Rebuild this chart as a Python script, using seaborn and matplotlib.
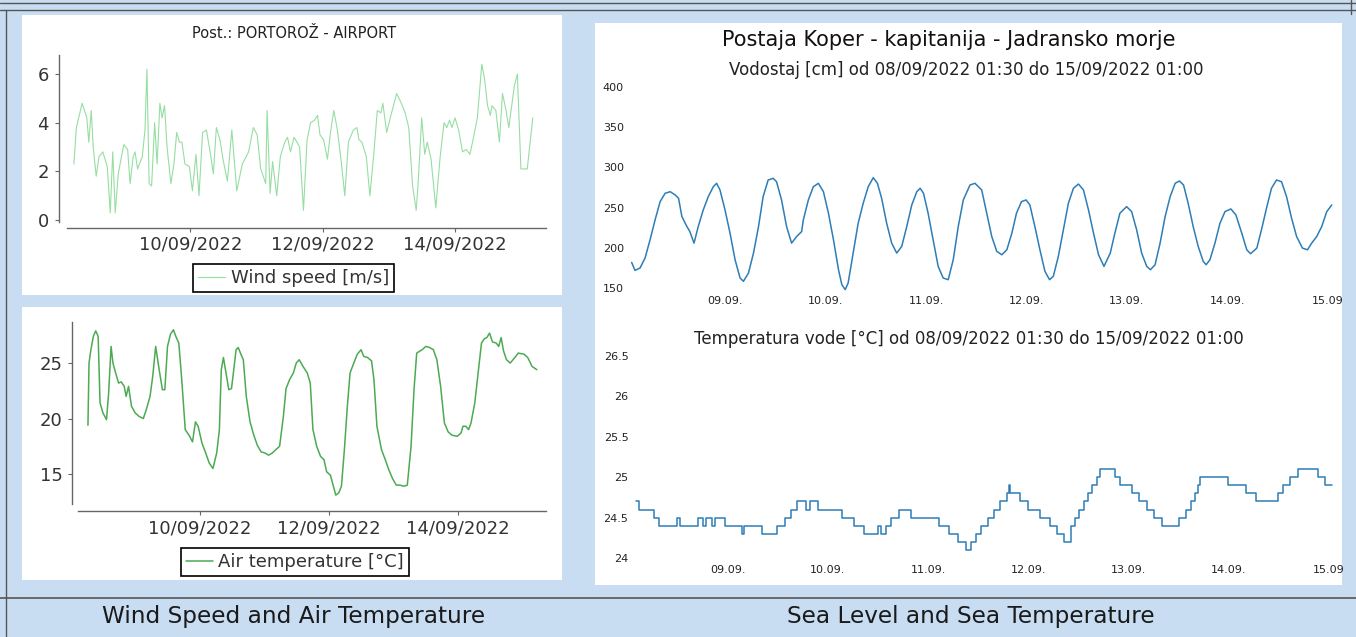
import matplotlib
matplotlib.use("Agg")
import matplotlib.pyplot as plt
from matplotlib.patches import Rectangle
from matplotlib.lines import Line2D
import pandas as pd
import seaborn as sns

sns.set_theme(style="ticks")
plt.rcParams["font.family"] = ["DejaVu Sans"]

START = pd.Timestamp("2022-09-08 00:00")

# hours since 08/09/2022 00:00
wind_hours = [5.7, 6.6, 8.7, 10.4, 11.1, 12.0, 12.7, 13.8, 14.8, 16.2,
              17.8, 18.9, 19.8, 20.7, 21.8, 23.8, 25.2, 26.1, 27.2, 27.9,
              28.8, 30.5, 31.5, 32.2, 33.0, 33.9, 35.0, 35.9, 36.9, 37.7,
              38.6, 39.5, 40.9, 42.0, 43.0, 44.0, 44.9, 46.0, 47.6, 48.7,
              50.0, 51.1, 52.4, 53.8, 55.4, 56.3, 57.4, 58.7, 59.8, 61.4,
              63.0, 64.8, 66.8, 69.1, 70.8, 72.2, 73.5, 75.3, 75.8, 76.9,
              77.8, 79.3, 80.6, 82.2, 83.2, 84.3, 85.6, 87.6, 89.0, 90.3,
              91.6, 93.0, 94.1, 95.0, 96.3, 97.7, 98.8, 100.0, 101.3, 102.6,
              104.0, 105.3, 107.1, 108.4, 109.1, 110.2, 111.8, 113.1, 114.5, 115.8,
              117.1, 117.8, 119.2, 120.5, 122.8, 124.5, 125.9, 127.2, 128.6, 129.9,
              130.6, 131.9, 133.0, 133.9, 135.3, 137.0, 138.6, 140.0, 141.0, 142.0,
              142.9, 144.0, 145.3, 146.7, 148.0, 149.4, 150.7, 152.1, 153.7, 154.7,
              155.8, 156.8, 157.4, 158.8, 160.1, 161.2, 162.5, 163.5, 165.5, 166.6,
              167.9, 170.2, 172.2]
wind_speed = [2.3, 3.8, 4.8, 4.2, 3.2, 4.5, 3.0, 1.8, 2.6, 2.8,
              2.2, 0.3, 2.8, 0.3, 1.9, 3.1, 2.9, 1.5, 2.6, 2.8,
              2.1, 2.6, 3.7, 6.2, 1.5, 1.4, 4.0, 2.3, 4.8, 4.2,
              4.7, 3.0, 1.5, 2.3, 3.6, 3.2, 3.2, 2.3, 2.2, 1.2,
              2.7, 1.0, 3.6, 3.7, 2.6, 1.9, 3.8, 3.3, 2.5, 1.6,
              3.7, 1.2, 2.3, 2.8, 3.8, 3.5, 2.1, 1.5, 4.5, 1.1,
              2.4, 1.0, 2.6, 3.2, 3.4, 2.8, 3.4, 3.0, 0.4, 3.3,
              4.0, 4.1, 4.3, 3.5, 3.3, 2.5, 3.6, 4.5, 3.7, 2.5,
              1.0, 3.2, 3.7, 3.8, 3.3, 3.2, 2.6, 1.0, 2.7, 4.5,
              4.4, 4.8, 3.6, 4.2, 5.2, 4.8, 4.4, 3.8, 1.4, 0.4,
              1.5, 4.2, 2.7, 3.2, 2.5, 0.5, 2.6, 4.0, 3.8, 4.1,
              3.8, 4.2, 3.7, 2.8, 2.9, 2.7, 3.4, 4.2, 6.4, 5.8,
              4.7, 4.3, 4.7, 4.5, 3.2, 5.2, 4.5, 3.8, 5.5, 6.0,
              2.1, 2.1, 4.2]

air_hours = [6.3, 6.7, 7.4, 8.3, 9.2, 10.1, 10.8, 11.9, 13.2, 14.0,
             14.9, 15.6, 16.6, 17.7, 18.7, 19.8, 20.5, 21.4, 22.5, 23.9,
             25.3, 26.9, 28.0, 29.4, 30.4, 31.5, 32.8, 34.0, 34.9, 35.9,
             37.0, 38.1, 39.0, 40.1, 41.1, 42.5, 43.9, 45.2, 46.3, 47.3,
             48.7, 50.1, 51.4, 52.8, 54.2, 55.2, 55.9, 56.7, 57.6, 58.7,
             59.7, 60.4, 61.4, 62.2, 63.2, 64.1, 65.2, 66.6, 68.0, 69.3,
             70.7, 72.1, 73.5, 74.9, 76.2, 77.6, 79.0, 80.0, 81.3, 82.7,
             83.8, 84.9, 86.3, 87.9, 89.0, 90.0, 91.4, 92.8, 94.1, 95.1,
             96.5, 97.6, 98.5, 99.6, 100.6, 101.7, 102.8, 103.8, 105.2, 106.5,
             107.9, 108.9, 110.3, 111.8, 112.7, 113.8, 115.5, 116.9, 118.2, 119.6,
             121.0, 122.4, 123.8, 125.1, 126.5, 127.6, 128.6, 130.6, 132.0, 133.4,
             134.8, 136.1, 137.5, 138.9, 140.3, 141.7, 143.7, 145.1, 145.8, 146.9,
             147.9, 148.8, 150.2, 151.3, 152.7, 153.8, 154.7, 155.7, 156.8, 158.2,
             159.1, 160.0, 160.9, 162.0, 163.4, 165.1, 166.4, 168.5, 169.9, 171.5,
             173.3]
air_temp = [19.4, 25.0, 26.2, 27.4, 27.9, 27.4, 21.4, 20.5, 19.9, 22.3,
            26.5, 25.0, 24.1, 23.2, 23.3, 22.9, 22.0, 22.9, 21.1, 20.5,
            20.2, 20.0, 20.8, 22.0, 23.8, 26.5, 24.4, 22.6, 22.6, 26.5,
            27.6, 28.0, 27.4, 26.8, 23.8, 19.0, 18.5, 17.9, 19.7, 19.3,
            17.8, 16.9, 16.0, 15.5, 16.9, 19.0, 24.4, 25.5, 24.2, 22.6,
            22.7, 24.1, 26.2, 26.4, 25.8, 25.3, 22.0, 19.7, 18.5, 17.6,
            17.0, 16.9, 16.7, 16.9, 17.2, 17.5, 20.2, 22.7, 23.5, 24.1,
            25.0, 25.3, 24.7, 24.1, 23.2, 19.0, 17.5, 16.6, 16.3, 15.2,
            14.9, 13.9, 13.1, 13.3, 13.9, 17.2, 21.1, 24.1, 25.0, 25.8,
            26.2, 25.6, 25.5, 25.2, 23.5, 19.3, 17.2, 16.3, 15.4, 14.6,
            14.0, 14.0, 13.9, 14.0, 17.5, 22.6, 25.9, 26.2, 26.5, 26.4,
            26.2, 25.3, 22.9, 19.6, 18.8, 18.5, 18.4, 18.7, 19.3, 19.3,
            19.0, 19.6, 21.4, 23.8, 26.8, 27.2, 27.3, 27.7, 26.9, 26.8,
            26.5, 27.3, 26.1, 25.3, 25.0, 25.5, 25.9, 25.8, 25.5, 24.7,
            24.4]

sea_level_hours = [1.7, 2.5, 3.7, 4.9, 6.1, 7.3, 8.5, 9.7, 10.9, 12.1,
                   12.9, 13.7, 14.9, 15.6, 16.6, 17.6, 18.8, 20.0, 21.2, 22.0,
                   22.8, 24.0, 25.2, 26.4, 27.6, 28.4, 29.6, 30.8, 32.0, 33.1,
                   34.3, 35.5, 36.3, 37.5, 38.7, 39.9, 41.1, 42.3, 42.7, 43.9,
                   45.1, 46.3, 47.5, 48.7, 49.9, 51.1, 51.9, 52.7, 53.4, 54.6,
                   55.8, 57.0, 58.2, 59.4, 60.4, 61.4, 62.6, 63.8, 65.0, 66.2,
                   67.4, 68.6, 69.8, 70.6, 71.4, 72.5, 73.7, 74.9, 76.1, 77.3,
                   78.5, 79.7, 80.9, 82.5,
                   83.7, 85.3, 86.5, 87.7, 88.9, 90.1, 91.3, 92.5, 93.6, 94.8,
                   95.9, 96.8, 98.0, 99.2, 100.4, 101.5, 102.4, 103.6, 104.8, 106.0,
                   107.2, 108.4, 109.6, 110.8, 112.0, 113.2, 114.5, 116.0, 117.1, 118.3,
                   119.9, 121.1, 122.3, 123.5, 124.7, 125.6, 126.7, 127.9, 129.1, 130.3,
                   131.5, 132.5, 133.5, 134.6, 135.8, 137.0, 138.2, 138.9, 139.8, 141.0,
                   142.2, 143.4, 144.8, 146.0, 147.4, 148.6, 149.5, 151.0, 152.2, 153.4,
                   154.5, 155.7, 156.9, 158.1, 159.3, 160.5, 161.9, 163.1, 164.1, 165.3,
                   166.5, 167.7, 168.9]
sea_level_cm = [181.8, 171.9, 174.8, 187.2, 209.9, 234.7, 257.4, 267.8, 269.8, 265.7,
                261.6, 238.8, 226.4, 220.2, 205.8, 226.4, 247.1, 263.6, 276.0, 280.2,
                271.9, 247.1, 218.2, 185.1, 162.4, 158.3, 168.6, 193.4, 226.4, 263.6,
                284.3, 286.4, 282.2, 259.5, 226.4, 205.8, 214.0, 220.2, 234.7, 259.5,
                276.0, 280.2, 269.8, 243.0, 209.9, 172.7, 154.1, 147.9, 156.2, 193.4,
                230.6, 255.4, 276.0, 287.2, 280.2, 261.6, 230.6, 205.8, 193.4, 201.7,
                226.4, 253.3, 269.8, 274.0, 267.8, 243.0, 209.9, 176.9, 162.4, 160.3,
                185.1, 226.4, 259.5, 278.1,
                280.2, 271.9, 243.0, 214.0, 195.5, 191.3, 197.5, 218.2, 243.0, 257.4,
                259.5, 253.3, 226.4, 197.5, 170.7, 160.3, 164.5, 189.3, 222.3, 255.4,
                274.0, 279.3, 271.9, 247.1, 218.2, 191.3, 176.9, 193.4, 218.2, 243.0,
                251.2, 245.0, 222.3, 193.4, 176.9, 172.7, 178.9, 205.8, 238.8, 263.6,
                280.2, 283.1, 278.1, 255.4, 226.4, 201.7, 183.1, 178.9, 185.1, 205.8,
                230.6, 245.0, 248.3, 240.9, 218.2, 197.5, 192.6, 199.6, 224.4, 251.2,
                274.0, 284.3, 282.2, 263.6, 236.8, 214.0, 199.6, 197.5, 205.8, 214.0,
                226.4, 245.0, 253.3]

# sea temperature: value holds from each time until the next one
sea_temp_hours = [2.0, 2.6, 6.2, 7.4, 11.9, 12.5, 16.9, 18.1, 18.7, 20.2,
                  20.8, 23.4, 27.3, 27.9, 32.3, 35.9, 37.7, 39.2, 40.6, 42.8,
                  43.6, 45.6, 51.3, 54.3, 56.7, 60.0, 60.6, 61.8, 63.2, 65.0,
                  68.0, 74.5, 76.9, 79.2, 81.0, 82.2, 83.4, 84.8, 86.4, 87.8,
                  89.3, 90.8, 91.4, 91.7, 94.1, 95.9, 98.8, 101.2, 103.0, 104.5,
                  106.3, 107.2, 108.1, 109.3, 110.4, 111.3, 112.5, 113.1, 116.7, 117.9,
                  120.8, 122.6, 124.4, 126.2, 128.0, 132.1, 133.9, 135.1, 136.0, 136.6,
                  137.1, 144.0, 148.1, 150.5, 155.9, 157.1, 158.8, 160.6, 165.4, 167.1,
                  168.9]
sea_temp_c = [24.7, 24.6, 24.5, 24.4, 24.5, 24.4, 24.5, 24.4, 24.5, 24.4,
              24.5, 24.4, 24.3, 24.4, 24.3, 24.4, 24.5, 24.6, 24.7, 24.6,
              24.7, 24.6, 24.5, 24.4, 24.3, 24.4, 24.3, 24.4, 24.5, 24.6,
              24.5, 24.4, 24.3, 24.2, 24.1, 24.2, 24.3, 24.4, 24.5, 24.6,
              24.7, 24.8, 24.9, 24.8, 24.7, 24.6, 24.5, 24.4, 24.3, 24.2,
              24.4, 24.5, 24.6, 24.7, 24.8, 24.9, 25.0, 25.1, 25.0, 24.9,
              24.8, 24.7, 24.6, 24.5, 24.4, 24.5, 24.6, 24.7, 24.8, 24.9,
              25.0, 24.9, 24.8, 24.7, 24.8, 24.9, 25.0, 25.1, 25.0, 24.9,
              24.9]

left_ticks = ["2022-09-10", "2022-09-12", "2022-09-14"]
left_tick_labels = ["10/09/2022", "12/09/2022", "14/09/2022"]
right_ticks = ["2022-09-09", "2022-09-10", "2022-09-11", "2022-09-12",
               "2022-09-13", "2022-09-14", "2022-09-15"]
right_tick_labels = ["09.09.", "10.09.", "11.09.", "12.09.", "13.09.", "14.09.", "15.09"]
wind_yticks = [0, 2, 4, 6]
air_yticks = [15, 20, 25]
level_yticks = [150, 200, 250, 300, 350, 400]
temp_yticks = [24, 24.5, 25, 25.5, 26, 26.5]
temp_ytick_labels = ["24", "24.5", "25", "25.5", "26", "26.5"]

W, H = 1356, 637
BG = "#c9ddf2"
WIND_COLOR = "#96dea2"
AIR_COLOR = "#4caa52"
SEA_COLOR = "#2d7db6"


def to_time(hours):
    return START + pd.to_timedelta(hours, unit="h")


def px_rect(x0, y0, x1, y1):
    return [x0 / W, 1 - y1 / H, (x1 - x0) / W, (y1 - y0) / H]


def fx(x):
    return x / W


def fy(y):
    return 1 - y / H


fig = plt.figure(figsize=(W / 100, H / 100), dpi=100, facecolor=BG)

# white panels, kept under the axes
for x0, y0, x1, y1 in [(22, 15, 562, 295), (22, 307, 562, 580), (595, 23, 1342, 585)]:
    fig.patches.append(Rectangle((fx(x0), fy(y1)), (x1 - x0) / W, (y1 - y0) / H,
                                 transform=fig.transFigure, facecolor="white",
                                 edgecolor="none", zorder=-5))

# frame lines of the page
for y in (3, 10):
    fig.add_artist(Line2D([0, 1], [fy(y), fy(y)], transform=fig.transFigure, color="#555", lw=1))
fig.add_artist(Line2D([0, 1], [fy(598), fy(598)], transform=fig.transFigure, color="#555", lw=1.2))
fig.add_artist(Line2D([fx(5.5), fx(5.5)], [fy(10), 0], transform=fig.transFigure, color="#555", lw=1))
fig.add_artist(Line2D([fx(1351), fx(1351)], [fy(0), fy(14)], transform=fig.transFigure, color="#555", lw=1))


def left_axes(rect, hours, values, color, lw, label, xlim, ylim, yticks, offset, legend_xy):
    ax = fig.add_axes(px_rect(*rect))
    ax.set_facecolor("none")
    sns.lineplot(x=to_time(hours), y=values, ax=ax, color=color, linewidth=lw, label=label)
    sns.despine(ax=ax, offset=offset)
    for side in ("left", "bottom"):
        ax.spines[side].set_color("#666")
        ax.spines[side].set_linewidth(1)
    ax.set_xlim(to_time(xlim[0]), to_time(xlim[1]))
    ax.set_ylim(*ylim)
    ax.set_yticks(yticks)
    ax.set_xticks(pd.to_datetime(left_ticks))
    ax.set_xticklabels(left_tick_labels)
    ax.set_xlabel("")
    ax.set_ylabel("")
    ax.tick_params(labelsize=13, length=3, width=0.8, color="#666", labelcolor="#333")
    ax.tick_params(axis="x", pad=3)
    ax.tick_params(axis="y", pad=4)
    leg = ax.legend(loc="center", bbox_to_anchor=(fx(legend_xy[0]), fy(legend_xy[1])),
                    bbox_transform=fig.transFigure, frameon=True, fancybox=False,
                    edgecolor="black", framealpha=1, fontsize=13, handlelength=1.5,
                    handletextpad=0.3, borderpad=0.3, borderaxespad=0)
    leg.get_frame().set_linewidth(1.2)
    for t in leg.get_texts():
        t.set_color("#333")
    return ax


left_axes((67, 55, 546, 222), wind_hours, wind_speed, WIND_COLOR, 0.8, "Wind speed [m/s]",
          (3.2, 177), (-0.08, 6.78), wind_yticks, {"left": 6, "bottom": 4}, (293.5, 278))
left_axes((78, 322, 546, 504), air_hours, air_temp, AIR_COLOR, 1.1, "Air temperature [°C]",
          (2.6, 176.7), (12.3, 28.7), air_yticks, {"left": 4, "bottom": 5}, (295, 562))


def right_axes(rect, hours, values, ylim, yticks, ytick_labels, xpad, ypad, **kw):
    ax = fig.add_axes(px_rect(*rect))
    ax.set_facecolor("none")
    sns.lineplot(x=to_time(hours), y=values, ax=ax, color=SEA_COLOR, linewidth=1.1, **kw)
    for s in ax.spines.values():
        s.set_visible(False)
    ax.set_xlim(to_time(1.5), to_time(169))
    ax.set_ylim(*ylim)
    ax.set_yticks(yticks)
    ax.set_yticklabels(ytick_labels)
    ax.set_xticks(pd.to_datetime(right_ticks))
    ax.set_xticklabels(right_tick_labels)
    ax.set_xlabel("")
    ax.set_ylabel("")
    ax.tick_params(length=0, labelsize=8, labelcolor="#222")
    ax.tick_params(axis="x", pad=xpad)
    ax.tick_params(axis="y", pad=ypad)
    for line in ax.get_lines():
        line.set_clip_on(False)
    return ax


right_axes((630.8, 87, 1332.2, 291.2), sea_level_hours, sea_level_cm, (146, 400),
           level_yticks, [str(v) for v in level_yticks], 3.5, 5)
right_axes((634, 356, 1332.7, 558), sea_temp_hours, sea_temp_c, (24, 26.5),
           temp_yticks, temp_ytick_labels, 5, 4, drawstyle="steps-post")

# titles and captions
fig.text(fx(294), fy(33), "Post.: PORTOROŽ - AIRPORT", ha="center", va="center",
         fontsize=10.5, color="#222")
fig.text(fx(949), fy(40), "Postaja Koper - kapitanija - Jadransko morje", ha="center",
         va="center", fontsize=15, color="#111")
fig.text(fx(966), fy(70), "Vodostaj [cm] od 08/09/2022 01:30 do 15/09/2022 01:00",
         ha="center", va="center", fontsize=12, color="#222")
fig.text(fx(969), fy(339), "Temperatura vode [°C] od 08/09/2022 01:30 do 15/09/2022 01:00",
         ha="center", va="center", fontsize=12, color="#222")
fig.text(fx(294), fy(617), "Wind Speed and Air Temperature", ha="center", va="center",
         fontsize=16.7, color="#1a1a1a")
fig.text(fx(971), fy(617), "Sea Level and Sea Temperature", ha="center", va="center",
         fontsize=16.7, color="#1a1a1a")

fig.savefig("out.png", dpi=100, facecolor=BG)
